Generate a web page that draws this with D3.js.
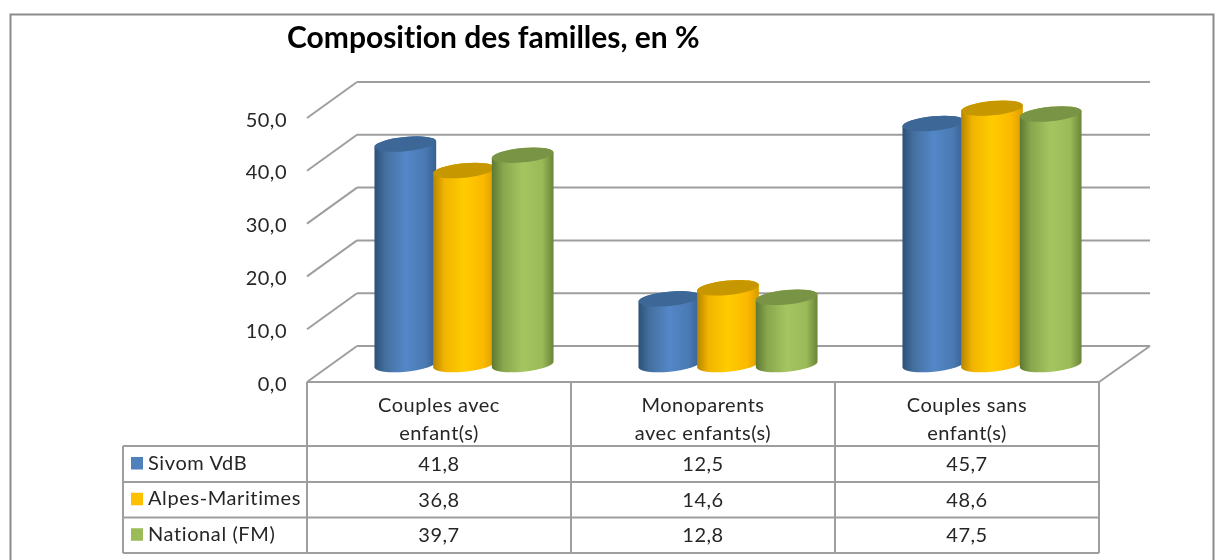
<!DOCTYPE html>
<html><head><meta charset="utf-8">
<script src="https://cdnjs.cloudflare.com/ajax/libs/d3/7.8.5/d3.min.js"></script>
<style>html,body{margin:0;padding:0;background:#fff}svg{display:block;filter:blur(0.35px)}text{font-family:Lato,"Open Sans",sans-serif;font-variant-ligatures:none}</style>
</head><body><svg id="c" width="1230" height="560"></svg>
<script>
const title = "Composition des familles, en %";
const categories = [["Couples avec","enfant(s)"],["Monoparents","avec enfants(s)"],["Couples sans","enfant(s)"]];
const seriesNames = ["Sivom VdB","Alpes-Maritimes","National (FM)"];
const sivom = [41.8,12.5,45.7];
const alpes = [36.8,14.6,48.6];
const national = [39.7,12.8,47.5];
const tickValues = [0,10,20,30,40,50];
const seriesColors = ["#4f81bd","#ffc000","#9bbb59"];
const gradStops = [
  ["#2d5179","#44709f","#5487c8","#4a7ab3","#37608f"],
  ["#b58500","#f0b400","#ffcc00","#fbb800","#d89c00"],
  ["#5d7833","#88a64c","#a5c561","#9aba58","#6a8439"]
];
const topColors = ["#3d6797","#c79700","#7a9445"];

const series = [sivom,alpes,national];
const fmt = d3.format(".1f"), comma = v => fmt(v).replace(".",",");
const svg = d3.select("#c");
const grid = "#9e9e9e", ink = "#262626";
const dx = 50, dy = -36;
const y = d3.scaleLinear().domain([0,50]).range([382,118]);
const x = d3.scaleBand().domain(d3.range(3)).range([307,1099]);
const xs = d3.scaleBand().domain(d3.range(3)).range([-88,88]);

svg.append("path").attr("d","M10.5,560V14.5H1213.5V560").attr("fill","none").attr("stroke","#8c8c8c").attr("stroke-width",2);

const wall = svg.append("g").attr("stroke",grid).attr("stroke-width",2).attr("fill","none");
tickValues.forEach(t=>{
  wall.append("line").attr("x1",307).attr("y1",y(t)).attr("x2",307+dx).attr("y2",y(t)+dy);
  wall.append("line").attr("x1",307+dx).attr("y1",y(t)+dy).attr("x2",1099+dx+1).attr("y2",y(t)+dy);
});
wall.append("line").attr("x1",1099).attr("y1",382).attr("x2",1150).attr("y2",346);

svg.append("g").selectAll("text").data(tickValues).join("text")
  .attr("x",287).attr("y",t=>y(t)+8.5).attr("text-anchor","end").attr("font-size",20).attr("letter-spacing",0.5).attr("fill",ink).text(comma);

const defs = svg.append("defs");
seriesNames.forEach((n,i)=>{
  const g = defs.append("linearGradient").attr("id","g"+i);
  [0,.18,.5,.82,1].forEach((o,k)=>g.append("stop").attr("offset",o).attr("stop-color",gradStops[i][k]));
});
const rx = 31, ry = 7.2, rot = -5.5;
const ca = Math.cos(rot*Math.PI/180), sa = Math.sin(rot*Math.PI/180);
const bars = svg.append("g");
categories.forEach((c,ci)=>{
  series.forEach((vals,si)=>{
    const cx = x(ci)+x.bandwidth()/2+dx/2 + xs(si)+xs.bandwidth()/2;
    const yTop = y(vals[ci])+dy/2+0.8, yBot = y(0)+dy/2+0.5;
    const ex = rx*ca, ey = rx*sa;
    const arc = `A${rx},${ry} ${rot} 0`;
    bars.append("path").attr("fill",`url(#g${si})`)
      .attr("d",`M${cx-ex},${yTop-ey}L${cx-ex},${yBot-ey}${arc} 0 ${cx+ex},${yBot+ey}L${cx+ex},${yTop+ey}${arc} 0 ${cx-ex},${yTop-ey}Z`);
    bars.append("ellipse").attr("cx",cx).attr("cy",yTop).attr("rx",rx).attr("ry",ry)
      .attr("transform",`rotate(${rot} ${cx} ${yTop})`).attr("fill",topColors[si]);
  });
});

const rowY = [446,482,517.5,553];
const tbl = svg.append("g").attr("stroke",grid).attr("stroke-width",2).attr("fill","none");
tbl.append("line").attr("x1",307).attr("y1",382).attr("x2",1099).attr("y2",382);
rowY.forEach(r=>tbl.append("line").attr("x1",123).attr("y1",r).attr("x2",1099).attr("y2",r));
tbl.append("line").attr("x1",123).attr("y1",446).attr("x2",123).attr("y2",553);
d3.range(4).forEach(i=>{
  const xx = i<3 ? x(i) : 1099;
  tbl.append("line").attr("x1",xx).attr("y1",382).attr("x2",xx).attr("y2",553);
});
const cellText = sel => sel.attr("text-anchor","middle").attr("font-size",20).attr("letter-spacing",0.5).attr("fill",ink);
categories.forEach((c,ci)=>{
  c.forEach((l,li)=>svg.append("text").attr("x",x(ci)+x.bandwidth()/2).attr("y",412+li*28).call(cellText).text(l));
  series.forEach((vals,si)=>svg.append("text").attr("x",x(ci)+x.bandwidth()/2).attr("y",(rowY[si]+rowY[si+1])/2+7).call(cellText).text(comma(vals[ci])));
});
seriesNames.forEach((n,si)=>{
  const my=(rowY[si]+rowY[si+1])/2;
  svg.append("rect").attr("x",131).attr("y",my-7).attr("width",12).attr("height",12.5).attr("fill",seriesColors[si]);
  svg.append("text").attr("x",148).attr("y",my+5.5).attr("font-size",20).attr("letter-spacing",0.6).attr("fill",ink).text(n);
});
svg.append("text").attr("x",287).attr("y",47.5).attr("font-size",30).attr("font-weight",700).attr("fill","#000").text(title);
</script></body></html>
